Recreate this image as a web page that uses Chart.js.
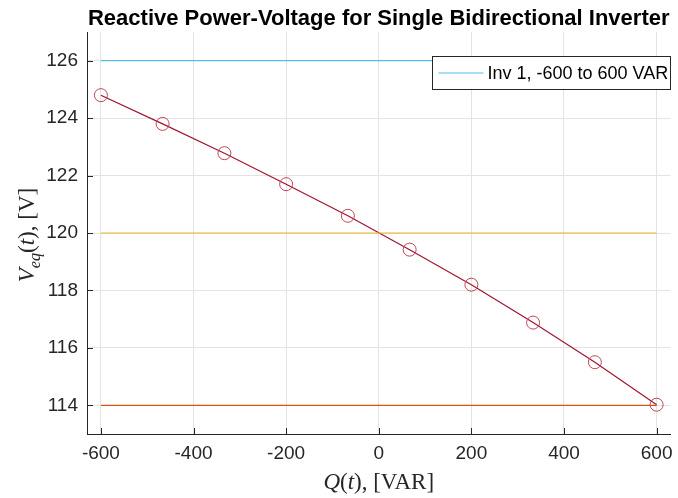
<!DOCTYPE html>
<html>
<head>
<meta charset="utf-8">
<script src="https://cdn.jsdelivr.net/npm/chart.js@4.4.0/dist/chart.umd.min.js"></script>
<style>
  html, body { margin: 0; padding: 0; background: #fff; }
</style>
</head>
<body>
<canvas id="chart" width="678" height="498"></canvas>
<script>
// data
const qValues = [-600, -466.7, -333.3, -200, -66.7, 66.7, 200, 333.3, 466.7, 600];
const vValues = [124.8, 123.8, 122.78, 121.7, 120.6, 119.42, 118.2, 116.88, 115.5, 114.02];
const limitSpan = [-600, 600];
const vUpper = 126;
const vNominal = 120;
const vLower = 114;
const xTicks = [-600, -400, -200, 0, 200, 400, 600];
const yTicks = [114, 116, 118, 120, 122, 124, 126];
const titleText = 'Reactive Power-Voltage for Single Bidirectional Inverter';
const legendLabel = 'Inv 1, -600 to 600 VAR';

const AXIS_COLOR = '#262626';
const SANS = '"Liberation Sans", Arial, sans-serif';
const SERIF = '"Liberation Serif", "DejaVu Serif", serif';

function hLine(y) {
  return limitSpan.map(x => ({ x, y }));
}

// draws a run of text pieces: [text, italic, subscript]
function drawPieces(ctx, pieces, cx, cy, size) {
  const fontFor = p => (p[1] ? 'italic ' : '') + (p[2] ? size * 0.7 : size) + 'px ' + SERIF;
  let total = 0;
  pieces.forEach(p => { ctx.font = fontFor(p); total += ctx.measureText(p[0]).width; });
  let x = cx - total / 2;
  ctx.textBaseline = 'alphabetic';
  ctx.textAlign = 'left';
  pieces.forEach(p => {
    ctx.font = fontFor(p);
    ctx.fillText(p[0], x, cy + (p[2] ? size * 0.25 : 0));
    x += ctx.measureText(p[0]).width;
  });
}

const decorations = {
  id: 'decorations',
  afterDraw(chart) {
    const { ctx, chartArea: a, scales } = chart;
    ctx.save();

    // inward ticks
    ctx.strokeStyle = AXIS_COLOR;
    ctx.lineWidth = 1;
    ctx.beginPath();
    xTicks.forEach(v => {
      const px = Math.round(scales.x.getPixelForValue(v)) + 0.5;
      ctx.moveTo(px, a.bottom);
      ctx.lineTo(px, a.bottom - 6);
    });
    yTicks.forEach(v => {
      const py = Math.round(scales.y.getPixelForValue(v)) + 0.5;
      ctx.moveTo(a.left, py);
      ctx.lineTo(a.left + 6, py);
    });
    ctx.stroke();

    // title
    ctx.fillStyle = '#000';
    ctx.font = 'bold 22px ' + SANS;
    ctx.textAlign = 'center';
    ctx.textBaseline = 'alphabetic';
    ctx.fillText(titleText, (a.left + a.right) / 2, 25);

    // axis titles
    ctx.fillStyle = AXIS_COLOR;
    drawPieces(ctx, [['Q', true], ['(', false], ['t', true], ['), [VAR]', false]],
      (a.left + a.right) / 2, 489, 23);
    ctx.save();
    ctx.translate(34, (a.top + a.bottom) / 2 + 2);
    ctx.rotate(-Math.PI / 2);
    drawPieces(ctx, [['V', true], ['eq', true, true], ['(', false], ['t', true], ['), [V]', false]],
      0, 0, 23);
    ctx.restore();

    // legend box
    const ds = chart.data.datasets[0];
    const bx = 432.5, by = 56.5, bw = 238, bh = 33;
    ctx.fillStyle = '#fff';
    ctx.fillRect(bx, by, bw, bh);
    ctx.strokeStyle = '#262626';
    ctx.lineWidth = 1;
    ctx.strokeRect(bx, by, bw, bh);
    ctx.strokeStyle = ds.borderColor;
    ctx.beginPath();
    ctx.moveTo(bx + 6, by + bh / 2);
    ctx.lineTo(bx + 51, by + bh / 2);
    ctx.stroke();
    ctx.fillStyle = '#000';
    ctx.font = '18px ' + SANS;
    ctx.textAlign = 'left';
    ctx.textBaseline = 'middle';
    ctx.fillText(ds.label, bx + 55, by + bh / 2 + 1);

    ctx.restore();
  }
};

new Chart(document.getElementById('chart'), {
  type: 'line',
  data: {
    datasets: [
      {
        label: legendLabel,
        data: hLine(vUpper),
        borderColor: '#4DBEEE',
        borderWidth: 1.2,
        pointRadius: 0,
      },
      {
        label: 'nominal',
        data: hLine(vNominal),
        borderColor: '#EDB120',
        borderWidth: 1.2,
        pointRadius: 0,
      },
      {
        label: 'lower',
        data: hLine(vLower),
        borderColor: '#D95319',
        borderWidth: 1.2,
        pointRadius: 0,
      },
      {
        label: 'Q-V',
        data: qValues.map((q, i) => ({ x: q, y: vValues[i] })),
        borderColor: '#A2142F',
        borderWidth: 1.2,
        pointRadius: 6.5,
        pointBorderWidth: 1,
        pointBorderColor: '#C04658',
        pointBackgroundColor: 'rgba(0,0,0,0)',
      },
    ],
  },
  options: {
    responsive: false,
    animation: false,
    layout: { padding: { top: 32, right: 6, left: 0, bottom: 0 } },
    plugins: {
      legend: { display: false },
      title: { display: false },
      tooltip: { enabled: false },
    },
    scales: {
      x: {
        type: 'linear',
        min: -630,
        max: 630,
        afterBuildTicks: axis => { axis.ticks = xTicks.map(v => ({ value: v })); },
        afterFit: axis => {
          axis.height = 64;
          axis.paddingLeft = 0;
          axis.paddingRight = 0;
        },
        grid: { color: '#e3e3e3', drawTicks: false },
        border: { color: AXIS_COLOR, width: 1 },
        ticks: { color: AXIS_COLOR, padding: 8, font: { family: SANS, size: 19 } },
      },
      y: {
        type: 'linear',
        min: 113,
        max: 127,
        afterBuildTicks: axis => { axis.ticks = yTicks.map(v => ({ value: v })); },
        afterFit: axis => {
          axis.width = 87;
          axis.paddingTop = 0;
          axis.paddingBottom = 0;
        },
        grid: { color: '#e3e3e3', drawTicks: false },
        border: { color: AXIS_COLOR, width: 1 },
        ticks: { color: AXIS_COLOR, padding: 9, font: { family: SANS, size: 19 } },
      },
    },
  },
  plugins: [decorations],
});
</script>
</body>
</html>
